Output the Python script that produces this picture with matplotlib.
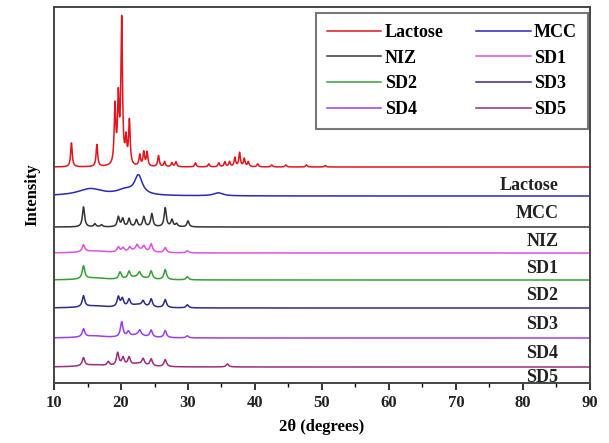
import numpy as np
import matplotlib
matplotlib.use("Agg")
import matplotlib.pyplot as plt
from matplotlib.ticker import MultipleLocator

plt.rcParams['font.family'] = ['Liberation Serif', 'DejaVu Serif']
plt.rcParams['font.weight'] = 'bold'

# sample names, colours and vertical offsets of each trace
names = ["Lactose", "MCC", "NIZ", "SD1", "SD2", "SD3", "SD4", "SD5"]
colors = ["#e3141c", "#2a2ab8", "#333333", "#e050e0",
          "#35a035", "#2c2c8c", "#9a3ee6", "#9c2c7c"]
offsets = [216, 187, 156, 130, 103, 75, 45, 16]
label_y = [198, 170, 142, 115, 88, 59, 30, 6]

# peak tables: 2theta position, height
lac_pos = [12.6, 16.4, 19.1, 19.6, 20.1, 20.75, 21.25, 22.8, 23.4, 23.9, 25.6,
           26.5, 27.6, 28.2, 31.1, 33.1, 34.6, 35.5, 36.2, 37.0, 37.7, 38.4,
           39.0, 40.4, 42.5, 44.6, 47.7, 50.5]
lac_h = [24, 22, 58, 64, 144, 24, 44, 11, 14, 14, 11,
         5, 4, 5, 4, 3, 4, 5, 5, 9, 14, 8,
         5, 3, 2, 2, 2, 1.5]

mcc_pos = [15.4, 20.6, 22.6, 34.5]
mcc_h = [7, 5, 19, 3]
mcc_w = [4.5, 3.0, 1.4, 1.6]

niz_pos = [14.4, 16.1, 17.1, 19.6, 20.25, 21.2, 22.3, 23.4, 24.6, 26.6, 27.6, 28.3, 30.0]
niz_h = [20, 3, 2, 10, 8, 8, 7, 10, 13, 19, 7, 3, 6]

sd1_pos = [14.4, 19.6, 20.3, 21.3, 22.4, 23.4, 24.5, 26.6, 29.9]
sd1_h = [7, 5, 4, 4, 5, 5, 8, 5, 2]

sd2_pos = [14.4, 19.85, 21.2, 22.75, 24.5, 26.6, 29.9]
sd2_h = [13, 7, 7, 5, 8, 10, 3]

sd3_pos = [14.4, 19.6, 20.2, 21.2, 23.3, 24.5, 26.6, 29.9]
sd3_h = [11, 10, 8, 7, 5, 8, 8, 3]

sd4_pos = [14.4, 20.1, 21.1, 22.8, 24.5, 26.6, 29.9]
sd4_h = [8, 15, 5, 5, 7, 7, 2]

sd5_pos = [14.4, 18.1, 19.5, 20.3, 21.2, 23.3, 24.5, 26.6, 35.9]
sd5_h = [8, 4, 13, 8, 8, 6, 7, 7, 3]

# broad amorphous halo of MCC seen in the dispersions
halo_pos = [16.0, 22.5]
halo_h = [2, 3]
halo_w = [4.0, 2.5]


def pattern(x, pos, h, w):
    w = np.broadcast_to(w, np.shape(pos))
    y = np.zeros_like(x)
    for p, a, g in zip(pos, h, w):
        y += a / (1 + ((x - p) / (g / 2)) ** 2)
    return y


tt = np.linspace(10, 90, 4001)
halo = pattern(tt, halo_pos, halo_h, halo_w)
curves = [
    pattern(tt, lac_pos, lac_h, 0.28),
    pattern(tt, mcc_pos, mcc_h, mcc_w),
    pattern(tt, niz_pos, niz_h, 0.38),
    pattern(tt, sd1_pos, sd1_h, 0.45) + halo,
    pattern(tt, sd2_pos, sd2_h, 0.45) + halo,
    pattern(tt, sd3_pos, sd3_h, 0.45) + halo,
    pattern(tt, sd4_pos, sd4_h, 0.45) + halo,
    pattern(tt, sd5_pos, sd5_h, 0.45) + halo,
]

fig = plt.figure(figsize=(6.09, 4.43), dpi=100)
ax = fig.add_axes([0.0887, 0.1354, 0.88, 0.8488])

lines = []
for name, c, off, y in zip(names, colors, offsets, curves):
    ln, = ax.plot(tt, y + off, color=c, lw=1.1, label=name)
    lines.append(ln)

for name, ly in zip(names, label_y):
    ax.text(85.3, ly, name, ha='right', va='center', fontsize=13,
            fontweight='bold', color='#222222', clip_on=True)

ax.set_xlim(10, 90)
ax.set_ylim(0, 376)
ax.set_yticks([])
ax.xaxis.set_major_locator(MultipleLocator(10))
ax.xaxis.set_minor_locator(MultipleLocator(5))
ax.tick_params(axis='x', which='major', direction='out', length=5, width=1.3,
               labelsize=12, colors='#222222')
ax.tick_params(axis='x', which='minor', direction='out', length=3, width=1.0)
for s in ax.spines.values():
    s.set_linewidth(1.4)
    s.set_color('#444444')

ax.set_xlabel("2θ (degrees)", fontsize=12, fontweight='bold', labelpad=6)
ax.set_ylabel("Intensity", fontsize=12, fontweight='bold', labelpad=10)

# legend filled row by row: Lactose MCC / NIZ SD1 / SD2 SD3 / SD4 SD5
order = [0, 2, 4, 6, 1, 3, 5, 7]
leg = ax.legend([lines[i] for i in order], [names[i] for i in order], ncol=2,
                loc='upper right', bbox_to_anchor=(0.9963, 0.984),
                borderaxespad=0.0,
                fontsize=13, frameon=True, fancybox=False, edgecolor='#555555',
                handlelength=3.0, handletextpad=0.2, columnspacing=1.8,
                labelspacing=0.48, borderpad=0.6)
leg.get_frame().set_linewidth(1.5)
for t in leg.get_texts():
    t.set_fontweight('bold')

fig.savefig("out.png", dpi=100)
